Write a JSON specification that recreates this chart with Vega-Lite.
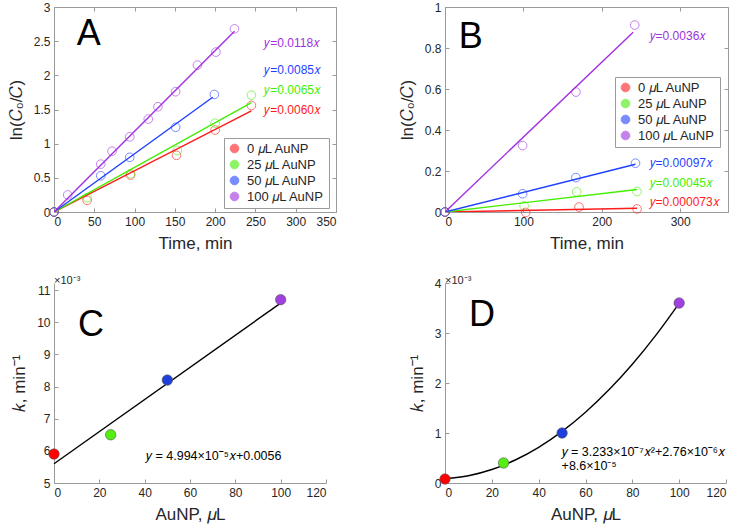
{
  "$schema": "https://vega.github.io/schema/vega-lite/v6.json",
  "padding": {"left": 6, "top": 0, "right": 5, "bottom": 5},
  "background": "white",
  "columns": 2,
  "bounds": "flush",
  "spacing": {"row": 71, "column": 109},
  "resolve": {
    "scale": {"x": "independent", "y": "independent", "color": "independent", "fill": "independent", "stroke": "independent"},
    "axis": {"x": "independent", "y": "independent"},
    "legend": {"color": "independent", "fill": "independent", "stroke": "independent"}
  },
  "config": {
    "font": "Liberation Sans",
    "view": {"stroke": "#9a9a9a", "strokeWidth": 1},
    "axis": {
      "domainColor": "#9a9a9a", "tickColor": "#9a9a9a", "tickSize": -4, "tickCount": 20,
      "labelPadding": 8, "labelFontSize": 12, "labelColor": "#262626", "labelFont": "Liberation Sans", "labelOverlap": false,
      "titleFontSize": 17, "titleFontWeight": "normal", "titleColor": "#262626", "titleFont": "Liberation Sans",
      "grid": false, "format": "~r"
    },
    "legend": {
      "labelFont": "Liberation Sans", "title": null, "strokeColor": "#9a9a9a", "fillColor": "white", "padding": 4, "rowPadding": 2,
      "labelFontSize": 13, "labelColor": "#262626", "symbolType": "circle", "symbolSize": 75, "symbolStrokeWidth": 1, "symbolOpacity": 0.6, "symbolFillColor": "transparent", "labelOffset": 6
    }
  },
  "datasets": {
    "A_pts": [
      {"s": "0 𝜇L AuNP", "t": 0, "v": 0}, {"s": "0 𝜇L AuNP", "t": 41, "v": 0.17}, {"s": "0 𝜇L AuNP", "t": 95, "v": 0.54}, {"s": "0 𝜇L AuNP", "t": 152, "v": 0.83}, {"s": "0 𝜇L AuNP", "t": 200, "v": 1.2}, {"s": "0 𝜇L AuNP", "t": 245, "v": 1.56},
      {"s": "25 𝜇L AuNP", "t": 0, "v": 0}, {"s": "25 𝜇L AuNP", "t": 41, "v": 0.21}, {"s": "25 𝜇L AuNP", "t": 95, "v": 0.56}, {"s": "25 𝜇L AuNP", "t": 153, "v": 0.9}, {"s": "25 𝜇L AuNP", "t": 200, "v": 1.3}, {"s": "25 𝜇L AuNP", "t": 245, "v": 1.71},
      {"s": "50 𝜇L AuNP", "t": 0, "v": 0}, {"s": "50 𝜇L AuNP", "t": 58, "v": 0.53}, {"s": "50 𝜇L AuNP", "t": 94, "v": 0.8}, {"s": "50 𝜇L AuNP", "t": 151, "v": 1.24}, {"s": "50 𝜇L AuNP", "t": 199, "v": 1.72},
      {"s": "100 𝜇L AuNP", "t": 0, "v": 0}, {"s": "100 𝜇L AuNP", "t": 17, "v": 0.25}, {"s": "100 𝜇L AuNP", "t": 58, "v": 0.7}, {"s": "100 𝜇L AuNP", "t": 72, "v": 0.89}, {"s": "100 𝜇L AuNP", "t": 94, "v": 1.1}, {"s": "100 𝜇L AuNP", "t": 117, "v": 1.36}, {"s": "100 𝜇L AuNP", "t": 129, "v": 1.54}, {"s": "100 𝜇L AuNP", "t": 151, "v": 1.76}, {"s": "100 𝜇L AuNP", "t": 178, "v": 2.15}, {"s": "100 𝜇L AuNP", "t": 201, "v": 2.34}, {"s": "100 𝜇L AuNP", "t": 224, "v": 2.68}
    ],
    "A_fit": [
      {"s": "0 𝜇L AuNP", "t": 0, "v": 0}, {"s": "0 𝜇L AuNP", "t": 245, "v": 1.48},
      {"s": "25 𝜇L AuNP", "t": 0, "v": 0}, {"s": "25 𝜇L AuNP", "t": 245, "v": 1.6},
      {"s": "50 𝜇L AuNP", "t": 0, "v": 0}, {"s": "50 𝜇L AuNP", "t": 197, "v": 1.68},
      {"s": "100 𝜇L AuNP", "t": 0, "v": 0}, {"s": "100 𝜇L AuNP", "t": 224, "v": 2.645}
    ],
    "A_eq": [
      {"s": "100 𝜇L AuNP", "t": 261, "v": 2.47, "label": "𝑦=0.0118𝑥"},
      {"s": "50 𝜇L AuNP", "t": 261, "v": 2.08, "label": "𝑦=0.0085𝑥"},
      {"s": "25 𝜇L AuNP", "t": 261, "v": 1.79, "label": "𝑦=0.0065𝑥"},
      {"s": "0 𝜇L AuNP", "t": 261, "v": 1.5, "label": "𝑦=0.0060𝑥"}
    ],
    "B_pts": [
      {"s": "0 𝜇L AuNP", "t": 0, "v": 0}, {"s": "0 𝜇L AuNP", "t": 103, "v": -0.002}, {"s": "0 𝜇L AuNP", "t": 171, "v": 0.024}, {"s": "0 𝜇L AuNP", "t": 245, "v": 0.015},
      {"s": "25 𝜇L AuNP", "t": 0, "v": 0}, {"s": "25 𝜇L AuNP", "t": 101, "v": 0.03}, {"s": "25 𝜇L AuNP", "t": 168, "v": 0.098}, {"s": "25 𝜇L AuNP", "t": 245, "v": 0.1},
      {"s": "50 𝜇L AuNP", "t": 0, "v": 0}, {"s": "50 𝜇L AuNP", "t": 99, "v": 0.089}, {"s": "50 𝜇L AuNP", "t": 167, "v": 0.168}, {"s": "50 𝜇L AuNP", "t": 243, "v": 0.238},
      {"s": "100 𝜇L AuNP", "t": 0, "v": 0}, {"s": "100 𝜇L AuNP", "t": 99, "v": 0.324}, {"s": "100 𝜇L AuNP", "t": 167, "v": 0.585}, {"s": "100 𝜇L AuNP", "t": 242, "v": 0.912}
    ],
    "B_fit": [
      {"s": "0 𝜇L AuNP", "t": 0, "v": 0}, {"s": "0 𝜇L AuNP", "t": 245, "v": 0.018},
      {"s": "25 𝜇L AuNP", "t": 0, "v": 0}, {"s": "25 𝜇L AuNP", "t": 245, "v": 0.11},
      {"s": "50 𝜇L AuNP", "t": 0, "v": 0}, {"s": "50 𝜇L AuNP", "t": 243, "v": 0.233},
      {"s": "100 𝜇L AuNP", "t": 0, "v": 0}, {"s": "100 𝜇L AuNP", "t": 240, "v": 0.877}
    ],
    "B_eq": [
      {"s": "100 𝜇L AuNP", "t": 261, "v": 0.859, "label": "𝑦=0.0036𝑥"},
      {"s": "50 𝜇L AuNP", "t": 261, "v": 0.239, "label": "𝑦=0.00097𝑥"},
      {"s": "25 𝜇L AuNP", "t": 261, "v": 0.141, "label": "𝑦=0.00045𝑥"},
      {"s": "0 𝜇L AuNP", "t": 261, "v": 0.047, "label": "𝑦=0.000073𝑥"}
    ],
    "C_pts": [
      {"s": "0 𝜇L AuNP", "a": 0, "k": 0.0059},
      {"s": "25 𝜇L AuNP", "a": 25, "k": 0.0065},
      {"s": "50 𝜇L AuNP", "a": 50, "k": 0.0082},
      {"s": "100 𝜇L AuNP", "a": 100, "k": 0.0107}
    ],
    "C_fit": [{"a": 0, "k": 0.0056}, {"a": 100, "k": 0.010594}],
    "D_pts": [
      {"s": "0 𝜇L AuNP", "a": 0, "k": 0.00008},
      {"s": "25 𝜇L AuNP", "a": 25, "k": 0.0004},
      {"s": "50 𝜇L AuNP", "a": 50, "k": 0.001},
      {"s": "100 𝜇L AuNP", "a": 100, "k": 0.0036}
    ],
    "D_fit": [
      {"a": 0, "k": 0.000086}, {"a": 10, "k": 0.000146}, {"a": 20, "k": 0.00027}, {"a": 30, "k": 0.00046}, {"a": 40, "k": 0.000714}, {"a": 50, "k": 0.001032},
      {"a": 60, "k": 0.001415}, {"a": 70, "k": 0.001863}, {"a": 80, "k": 0.002376}, {"a": 90, "k": 0.002953}, {"a": 100, "k": 0.003595}
    ]
  },
  "concat": [
    {
      "width": 282, "height": 205,
      "resolve": {"axis": {"x": "independent", "y": "independent"}},
      "layer": [
        {
          "data": {"name": "A_pts"},
          "mark": {"type": "point", "shape": "circle", "filled": false, "size": 75, "strokeWidth": 1, "opacity": 0.6},
          "encoding": {
            "x": {"field": "t", "type": "quantitative", "scale": {"domain": [0, 350], "nice": false, "zero": false}, "axis": {"title": "Time, min", "values": [0, 50, 100, 150, 200, 250, 300, 350], "titlePadding": 8}},
            "y": {"field": "v", "type": "quantitative", "scale": {"domain": [0, 3], "nice": false, "zero": false}, "axis": {"title": "ln(𝐶₀/𝐶)", "values": [0, 0.5, 1, 1.5, 2, 2.5, 3], "titlePadding": 8}},
            "stroke": {"field": "s", "type": "nominal", "scale": {"domain": ["0 𝜇L AuNP", "25 𝜇L AuNP", "50 𝜇L AuNP", "100 𝜇L AuNP"], "range": ["#ff1a1a", "#44ee00", "#1f3fff", "#a030e0"]}, "legend": {"orient": "none", "legendX": 170, "legendY": 131, "symbolFillColor": "transparent", "encode": {"symbols": {"update": {"fill": {"value": "transparent"}}}}}}
          }
        },
        {
          "data": {"name": "A_fit"},
          "mark": {"type": "line", "strokeWidth": 1.4, "clip": true},
          "encoding": {
            "x": {"field": "t", "type": "quantitative", "axis": {"orient": "top", "labels": false, "domain": false, "title": null, "values": [0, 50, 100, 150, 200, 250, 300, 350]}},
            "y": {"field": "v", "type": "quantitative", "axis": {"orient": "right", "labels": false, "domain": false, "title": null, "values": [0, 0.5, 1, 1.5, 2, 2.5, 3]}},
            "color": {"field": "s", "type": "nominal", "scale": {"domain": ["0 𝜇L AuNP", "25 𝜇L AuNP", "50 𝜇L AuNP", "100 𝜇L AuNP"], "range": ["#ff1a1a", "#44ee00", "#1f3fff", "#a030e0"]}, "legend": null},
            "detail": {"field": "s"}
          }
        },
        {
          "data": {"name": "A_eq"},
          "mark": {"type": "text", "align": "left", "baseline": "middle", "fontSize": 12},
          "encoding": {
            "x": {"field": "t", "type": "quantitative", "axis": null},
            "y": {"field": "v", "type": "quantitative", "axis": null},
            "text": {"field": "label"},
            "fill": {"field": "s", "type": "nominal", "scale": {"domain": ["0 𝜇L AuNP", "25 𝜇L AuNP", "50 𝜇L AuNP", "100 𝜇L AuNP"], "range": ["#ff1a1a", "#44ee00", "#1f3fff", "#a030e0"]}, "legend": null}
          }
        },
        {
          "data": {"values": [{"label": "A", "t": 43, "v": 2.6}]},
          "mark": {"type": "text", "align": "center", "baseline": "middle", "fontSize": 36, "color": "black"},
          "encoding": {
            "x": {"field": "t", "type": "quantitative", "axis": null},
            "y": {"field": "v", "type": "quantitative", "axis": null},
            "text": {"field": "label"}
          }
        }
      ]
    },
    {
      "width": 283, "height": 205,
      "resolve": {"axis": {"x": "independent", "y": "independent"}},
      "layer": [
        {
          "data": {"name": "B_pts"},
          "mark": {"type": "point", "shape": "circle", "filled": false, "size": 75, "strokeWidth": 1, "opacity": 0.6},
          "encoding": {
            "x": {"field": "t", "type": "quantitative", "scale": {"domain": [0, 361], "nice": false, "zero": false}, "axis": {"title": "Time, min", "values": [0, 100, 200, 300], "titlePadding": 8}},
            "y": {"field": "v", "type": "quantitative", "scale": {"domain": [0, 1], "nice": false, "zero": false}, "axis": {"title": "ln(𝐶₀/𝐶)", "values": [0, 0.2, 0.4, 0.6, 0.8, 1], "titlePadding": 8}},
            "stroke": {"field": "s", "type": "nominal", "scale": {"domain": ["0 𝜇L AuNP", "25 𝜇L AuNP", "50 𝜇L AuNP", "100 𝜇L AuNP"], "range": ["#ff1a1a", "#44ee00", "#1f3fff", "#a030e0"]}, "legend": {"orient": "none", "legendX": 170, "legendY": 70, "symbolFillColor": "transparent", "encode": {"symbols": {"update": {"fill": {"value": "transparent"}}}}}}
          }
        },
        {
          "data": {"name": "B_fit"},
          "mark": {"type": "line", "strokeWidth": 1.4, "clip": true},
          "encoding": {
            "x": {"field": "t", "type": "quantitative", "axis": {"orient": "top", "labels": false, "domain": false, "title": null, "values": [0, 100, 200, 300]}},
            "y": {"field": "v", "type": "quantitative", "axis": {"orient": "right", "labels": false, "domain": false, "title": null, "values": [0, 0.2, 0.4, 0.6, 0.8, 1]}},
            "color": {"field": "s", "type": "nominal", "scale": {"domain": ["0 𝜇L AuNP", "25 𝜇L AuNP", "50 𝜇L AuNP", "100 𝜇L AuNP"], "range": ["#ff1a1a", "#44ee00", "#1f3fff", "#a030e0"]}, "legend": null},
            "detail": {"field": "s"}
          }
        },
        {
          "data": {"name": "B_eq"},
          "mark": {"type": "text", "align": "left", "baseline": "middle", "fontSize": 12},
          "encoding": {
            "x": {"field": "t", "type": "quantitative", "axis": null},
            "y": {"field": "v", "type": "quantitative", "axis": null},
            "text": {"field": "label"},
            "fill": {"field": "s", "type": "nominal", "scale": {"domain": ["0 𝜇L AuNP", "25 𝜇L AuNP", "50 𝜇L AuNP", "100 𝜇L AuNP"], "range": ["#ff1a1a", "#44ee00", "#1f3fff", "#a030e0"]}, "legend": null}
          }
        },
        {
          "data": {"values": [{"label": "B", "t": 33, "v": 0.853}]},
          "mark": {"type": "text", "align": "center", "baseline": "middle", "fontSize": 36, "color": "black"},
          "encoding": {
            "x": {"field": "t", "type": "quantitative", "axis": null},
            "y": {"field": "v", "type": "quantitative", "axis": null},
            "text": {"field": "label"}
          }
        }
      ]
    },
    {
      "width": 272, "height": 200,
      "view": {"stroke": null},
      "title": {"text": "×10⁻³", "anchor": "start", "fontSize": 11, "fontWeight": "normal", "color": "#262626", "offset": -3, "frame": "group"},
      "layer": [
        {
          "data": {"name": "C_fit"},
          "mark": {"type": "line", "strokeWidth": 1.4, "color": "black"},
          "encoding": {
            "x": {"field": "a", "type": "quantitative", "scale": {"domain": [0, 120], "nice": false, "zero": false}, "axis": {"title": "AuNP, 𝜇L", "values": [0, 20, 40, 60, 80, 100, 120], "titlePadding": 8}},
            "y": {"field": "k", "type": "quantitative", "scale": {"domain": [0.005, 0.011218], "nice": false, "zero": false}, "axis": {"title": "𝑘, min⁻¹", "values": [0.005, 0.006, 0.007, 0.008, 0.009, 0.01, 0.011], "tickCount": 20, "labelExpr": "'' + round(datum.value * 1000)", "titlePadding": 8}}
          }
        },
        {
          "data": {"name": "C_pts"},
          "mark": {"type": "circle", "size": 110, "opacity": 1, "stroke": "#555555", "strokeWidth": 0.6},
          "encoding": {
            "x": {"field": "a", "type": "quantitative"},
            "y": {"field": "k", "type": "quantitative"},
            "fill": {"field": "s", "type": "nominal", "scale": {"domain": ["0 𝜇L AuNP", "25 𝜇L AuNP", "50 𝜇L AuNP", "100 𝜇L AuNP"], "range": ["#ff0000", "#55ee11", "#1f3fdd", "#a040e0"]}, "legend": null}
          }
        },
        {
          "data": {"values": [{"label": "𝑦 = 4.994×10⁻⁵𝑥+0.0056", "a": 40.6, "k": 0.00584}]},
          "mark": {"type": "text", "align": "left", "baseline": "middle", "fontSize": 12.5, "color": "black"},
          "encoding": {
            "x": {"field": "a", "type": "quantitative"},
            "y": {"field": "k", "type": "quantitative"},
            "text": {"field": "label"}
          }
        },
        {
          "data": {"values": [{"label": "C", "a": 16.3, "k": 0.00991}]},
          "mark": {"type": "text", "align": "center", "baseline": "middle", "fontSize": 36, "color": "black"},
          "encoding": {
            "x": {"field": "a", "type": "quantitative"},
            "y": {"field": "k", "type": "quantitative"},
            "text": {"field": "label"}
          }
        }
      ]
    },
    {
      "width": 281, "height": 200,
      "view": {"stroke": null},
      "title": {"text": "×10⁻³", "anchor": "start", "fontSize": 11, "fontWeight": "normal", "color": "#262626", "offset": -9, "frame": "group"},
      "layer": [
        {
          "data": {"name": "D_fit"},
          "mark": {"type": "line", "strokeWidth": 1.4, "color": "black", "interpolate": "monotone"},
          "encoding": {
            "x": {"field": "a", "type": "quantitative", "scale": {"domain": [0, 120], "nice": false, "zero": false}, "axis": {"title": "AuNP, 𝜇L", "values": [0, 20, 40, 60, 80, 100, 120], "titlePadding": 8}},
            "y": {"field": "k", "type": "quantitative", "scale": {"domain": [0, 0.004], "nice": false, "zero": false}, "axis": {"title": "𝑘, min⁻¹", "values": [0, 0.001, 0.002, 0.003, 0.004], "tickCount": 20, "labelExpr": "'' + round(datum.value * 1000)", "titlePadding": 8}}
          }
        },
        {
          "data": {"name": "D_pts"},
          "mark": {"type": "circle", "size": 110, "opacity": 1, "stroke": "#555555", "strokeWidth": 0.6},
          "encoding": {
            "x": {"field": "a", "type": "quantitative"},
            "y": {"field": "k", "type": "quantitative"},
            "fill": {"field": "s", "type": "nominal", "scale": {"domain": ["0 𝜇L AuNP", "25 𝜇L AuNP", "50 𝜇L AuNP", "100 𝜇L AuNP"], "range": ["#ff0000", "#55ee11", "#1f3fdd", "#a040e0"]}, "legend": null}
          }
        },
        {
          "data": {"values": [{"label": "𝑦 = 3.233×10⁻⁷𝑥²+2.76×10⁻⁶𝑥", "a": 49.8, "k": 0.000614}, {"label": "+8.6×10⁻⁵", "a": 49.8, "k": 0.000346}]},
          "mark": {"type": "text", "align": "left", "baseline": "middle", "fontSize": 12.5, "color": "black"},
          "encoding": {
            "x": {"field": "a", "type": "quantitative"},
            "y": {"field": "k", "type": "quantitative"},
            "text": {"field": "label"}
          }
        },
        {
          "data": {"values": [{"label": "D", "a": 15.8, "k": 0.00336}]},
          "mark": {"type": "text", "align": "center", "baseline": "middle", "fontSize": 36, "color": "black"},
          "encoding": {
            "x": {"field": "a", "type": "quantitative"},
            "y": {"field": "k", "type": "quantitative"},
            "text": {"field": "label"}
          }
        }
      ]
    }
  ]
}
